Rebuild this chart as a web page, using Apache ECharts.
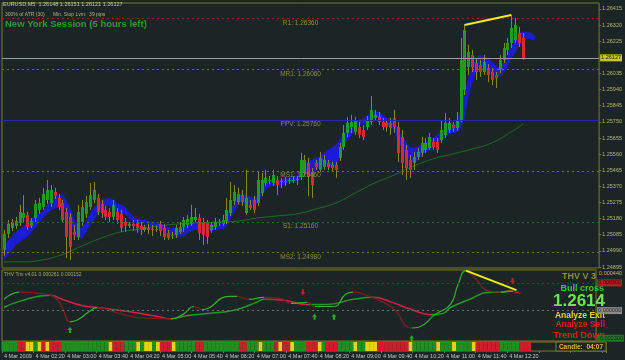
<!DOCTYPE html>
<html>
<head>
<meta charset="utf-8">
<script src="https://cdn.jsdelivr.net/npm/echarts@6/dist/echarts.min.js"></script>
<style>
  html, body { margin: 0; padding: 0; background: #1c2525; }
  #chart { width: 625px; height: 360px; }
</style>
</head>
<body>
<div id="chart"></div>
<script>
// M5 slots on the time axis (candles + chart shift space)
const slotCount = 153
const dateLabels = ['4 Mar 2009', '4 Mar 02:20', '4 Mar 03:00', '4 Mar 03:40', '4 Mar 04:20', '4 Mar 05:00',
  '4 Mar 05:40', '4 Mar 06:20', '4 Mar 07:00', '4 Mar 07:40', '4 Mar 08:20', '4 Mar 09:00', '4 Mar 09:40',
  '4 Mar 10:20', '4 Mar 11:00', '4 Mar 11:40', '4 Mar 12:20']
const priceTicks = [1.24895, 1.24990, 1.25085, 1.25180, 1.25275, 1.25370, 1.25465, 1.25560, 1.25655,
  1.25750, 1.25845, 1.25940, 1.26035, 1.26130, 1.26225, 1.26320, 1.26415]

// [open, close, low, high]
const candles = [
  [1.24996, 1.25090, 1.24960, 1.25113], [1.25090, 1.25149, 1.25066, 1.25172], [1.25125, 1.25160, 1.25107, 1.25178],
  [1.25137, 1.25166, 1.25119, 1.25190], [1.25155, 1.25219, 1.25137, 1.25261], [1.25184, 1.25213, 1.25160, 1.25319],
  [1.25202, 1.25131, 1.25113, 1.25219], [1.25137, 1.25166, 1.25125, 1.25184], [1.25184, 1.25266, 1.25160, 1.25290],
  [1.25231, 1.25272, 1.25208, 1.25302], [1.25249, 1.25325, 1.25231, 1.25361], [1.25290, 1.25349, 1.25266, 1.25408],
  [1.25272, 1.25349, 1.25249, 1.25378], [1.25337, 1.25314, 1.25296, 1.25361], [1.25302, 1.25249, 1.25231, 1.25325],
  [1.25272, 1.25172, 1.25155, 1.25290], [1.25219, 1.25072, 1.24948, 1.25243], [1.25190, 1.25013, 1.24937, 1.25213],
  [1.25102, 1.25084, 1.25054, 1.25143], [1.25072, 1.25219, 1.25054, 1.25261], [1.25160, 1.25249, 1.25137, 1.25290],
  [1.25208, 1.25278, 1.25184, 1.25314], [1.25249, 1.25319, 1.25231, 1.25390], [1.25290, 1.25349, 1.25272, 1.25396],
  [1.25302, 1.25219, 1.25202, 1.25325], [1.25266, 1.25213, 1.25184, 1.25290], [1.25231, 1.25190, 1.25172, 1.25255],
  [1.25219, 1.25190, 1.25160, 1.25243], [1.25190, 1.25261, 1.25172, 1.25290], [1.25219, 1.25172, 1.25149, 1.25243],
  [1.25208, 1.25125, 1.25102, 1.25231], [1.25160, 1.25137, 1.25102, 1.25184], [1.25137, 1.25149, 1.25125, 1.25160],
  [1.25149, 1.25137, 1.25107, 1.25172], [1.25155, 1.25125, 1.25096, 1.25172], [1.25137, 1.25113, 1.25084, 1.25160],
  [1.25113, 1.25131, 1.25102, 1.25143], [1.25125, 1.25113, 1.25090, 1.25149], [1.25113, 1.25119, 1.25078, 1.25143],
  [1.25119, 1.25113, 1.25102, 1.25137], [1.25149, 1.25107, 1.25078, 1.25166], [1.25125, 1.25072, 1.25054, 1.25149],
  [1.25096, 1.25066, 1.25054, 1.25113], [1.25084, 1.25078, 1.25060, 1.25102], [1.25084, 1.25125, 1.25066, 1.25143],
  [1.25102, 1.25131, 1.25090, 1.25160], [1.25131, 1.25172, 1.25102, 1.25190], [1.25143, 1.25178, 1.25125, 1.25202],
  [1.25149, 1.25190, 1.25137, 1.25261], [1.25172, 1.25190, 1.25160, 1.25243], [1.25184, 1.25096, 1.25054, 1.25208],
  [1.25160, 1.25084, 1.25025, 1.25184], [1.25155, 1.25072, 1.25031, 1.25172], [1.25113, 1.25143, 1.25096, 1.25160],
  [1.25131, 1.25160, 1.25113, 1.25184], [1.25155, 1.25160, 1.25137, 1.25178], [1.25149, 1.25172, 1.25137, 1.25202],
  [1.25166, 1.25231, 1.25149, 1.25302], [1.25213, 1.25290, 1.25196, 1.25396], [1.25284, 1.25337, 1.25261, 1.25378],
  [1.25278, 1.25325, 1.25261, 1.25361], [1.25319, 1.25278, 1.25255, 1.25349], [1.25213, 1.25302, 1.25202, 1.25467],
  [1.25261, 1.25243, 1.25231, 1.25290], [1.25290, 1.25231, 1.25213, 1.25314], [1.25272, 1.25408, 1.25255, 1.25455],
  [1.25331, 1.25408, 1.25314, 1.25449], [1.25390, 1.25420, 1.25373, 1.25467], [1.25402, 1.25408, 1.25384, 1.25431],
  [1.25390, 1.25437, 1.25373, 1.25467], [1.25408, 1.25378, 1.25319, 1.25431], [1.25396, 1.25402, 1.25361, 1.25420],
  [1.25402, 1.25396, 1.25373, 1.25425], [1.25402, 1.25408, 1.25384, 1.25420], [1.25402, 1.25408, 1.25390, 1.25431],
  [1.25408, 1.25414, 1.25378, 1.25431], [1.25425, 1.25526, 1.25408, 1.25567], [1.25449, 1.25526, 1.25431, 1.25555],
  [1.25508, 1.25425, 1.25314, 1.25537], [1.25455, 1.25378, 1.25302, 1.25478], [1.25508, 1.25484, 1.25467, 1.25526],
  [1.25467, 1.25537, 1.25455, 1.25573], [1.25484, 1.25526, 1.25467, 1.25555], [1.25508, 1.25484, 1.25467, 1.25526],
  [1.25496, 1.25478, 1.25455, 1.25514], [1.25496, 1.25467, 1.25420, 1.25514], [1.25537, 1.25602, 1.25520, 1.25626],
  [1.25602, 1.25685, 1.25585, 1.25732], [1.25685, 1.25744, 1.25661, 1.25779], [1.25720, 1.25749, 1.25685, 1.25791],
  [1.25691, 1.25761, 1.25673, 1.25779], [1.25720, 1.25673, 1.25655, 1.25749], [1.25702, 1.25661, 1.25643, 1.25732],
  [1.25720, 1.25761, 1.25702, 1.25785], [1.25749, 1.25820, 1.25732, 1.25903], [1.25773, 1.25791, 1.25755, 1.25820],
  [1.25779, 1.25749, 1.25732, 1.25808], [1.25749, 1.25720, 1.25702, 1.25773], [1.25744, 1.25720, 1.25691, 1.25761],
  [1.25744, 1.25714, 1.25673, 1.25773], [1.25773, 1.25720, 1.25685, 1.25820], [1.25720, 1.25567, 1.25514, 1.25749],
  [1.25661, 1.25508, 1.25437, 1.25702], [1.25585, 1.25478, 1.25408, 1.25614], [1.25526, 1.25467, 1.25420, 1.25555],
  [1.25508, 1.25543, 1.25467, 1.25573], [1.25543, 1.25573, 1.25526, 1.25596], [1.25567, 1.25626, 1.25543, 1.25661],
  [1.25585, 1.25626, 1.25567, 1.25655], [1.25596, 1.25661, 1.25585, 1.25685], [1.25632, 1.25602, 1.25585, 1.25655],
  [1.25632, 1.25585, 1.25567, 1.25655], [1.25643, 1.25702, 1.25626, 1.25761], [1.25673, 1.25744, 1.25655, 1.25802],
  [1.25702, 1.25744, 1.25685, 1.25773], [1.25732, 1.25714, 1.25691, 1.25749], [1.25714, 1.25761, 1.25696, 1.25808],
  [1.25761, 1.26115, 1.25749, 1.26244], [1.25938, 1.26291, 1.25908, 1.26321], [1.26073, 1.26162, 1.26026, 1.26203],
  [1.26144, 1.26073, 1.26044, 1.26174], [1.26097, 1.26044, 1.25997, 1.26126], [1.26085, 1.26044, 1.26015, 1.26115],
  [1.26044, 1.26103, 1.26026, 1.26144], [1.26067, 1.26026, 1.25985, 1.26091], [1.26044, 1.25997, 1.25967, 1.26067],
  [1.26026, 1.26009, 1.25950, 1.26044], [1.26056, 1.26115, 1.26038, 1.26144], [1.26115, 1.26185, 1.26097, 1.26215],
  [1.26174, 1.26215, 1.26144, 1.26244], [1.26215, 1.26303, 1.26185, 1.26380], [1.26232, 1.26321, 1.26215, 1.26362],
  [1.26274, 1.26215, 1.26191, 1.26309], [1.26244, 1.26127, 1.26115, 1.26274]
]

// blue channel: [slot, upper, lower]
const bandPoints = [
  [0, 1.25025, 1.24937], [3, 1.25102, 1.25025], [6, 1.25149, 1.25078], [8, 1.25202, 1.25125], [10, 1.25219, 1.25190],
  [12, 1.25290, 1.25231], [14, 1.25314, 1.25249], [15, 1.25319, 1.25261], [16, 1.25290, 1.25219], [17, 1.25231, 1.25160],
  [18, 1.25172, 1.25102], [19, 1.25137, 1.25066], [20, 1.25125, 1.25066], [21, 1.25160, 1.25102], [22, 1.25208, 1.25143],
  [23, 1.25243, 1.25172], [24, 1.25266, 1.25208], [25, 1.25290, 1.25249], [26, 1.25296, 1.25261], [27, 1.25302, 1.25255],
  [28, 1.25290, 1.25237], [29, 1.25272, 1.25219], [30, 1.25261, 1.25213], [31, 1.25249, 1.25208], [32, 1.25219, 1.25184],
  [33, 1.25196, 1.25166], [34, 1.25178, 1.25155], [35, 1.25172, 1.25149], [36, 1.25172, 1.25155], [37, 1.25166, 1.25143],
  [38, 1.25160, 1.25131], [39, 1.25155, 1.25125], [40, 1.25149, 1.25119], [41, 1.25143, 1.25113], [42, 1.25131, 1.25102],
  [43, 1.25125, 1.25084], [44, 1.25119, 1.25072], [45, 1.25119, 1.25072], [46, 1.25125, 1.25078], [47, 1.25137, 1.25096],
  [48, 1.25149, 1.25107], [49, 1.25160, 1.25119], [50, 1.25160, 1.25113], [51, 1.25155, 1.25113], [52, 1.25149, 1.25107],
  [53, 1.25149, 1.25107], [54, 1.25143, 1.25113], [55, 1.25143, 1.25119], [56, 1.25149, 1.25119], [57, 1.25184, 1.25137],
  [58, 1.25231, 1.25184], [59, 1.25266, 1.25219], [60, 1.25308, 1.25266], [61, 1.25325, 1.25278], [62, 1.25319, 1.25261],
  [63, 1.25308, 1.25261], [64, 1.25302, 1.25261], [65, 1.25314, 1.25272], [66, 1.25349, 1.25314], [67, 1.25378, 1.25349],
  [68, 1.25402, 1.25373], [69, 1.25408, 1.25378], [70, 1.25408, 1.25378], [71, 1.25408, 1.25373], [72, 1.25414, 1.25384],
  [73, 1.25425, 1.25396], [74, 1.25425, 1.25396], [75, 1.25431, 1.25402], [76, 1.25467, 1.25420], [77, 1.25496, 1.25437],
  [78, 1.25526, 1.25455], [79, 1.25526, 1.25437], [80, 1.25537, 1.25467], [81, 1.25549, 1.25484], [82, 1.25567, 1.25508],
  [83, 1.25585, 1.25496], [84, 1.25596, 1.25484], [85, 1.25614, 1.25496], [86, 1.25643, 1.25537], [87, 1.25679, 1.25608],
  [88, 1.25714, 1.25643], [89, 1.25732, 1.25673], [90, 1.25755, 1.25714], [91, 1.25761, 1.25732], [92, 1.25767, 1.25738],
  [93, 1.25785, 1.25749], [94, 1.25802, 1.25761], [95, 1.25808, 1.25773], [96, 1.25808, 1.25779], [97, 1.25791, 1.25755],
  [98, 1.25773, 1.25732], [99, 1.25761, 1.25720], [100, 1.25744, 1.25696], [101, 1.25702, 1.25643], [102, 1.25661, 1.25596],
  [103, 1.25632, 1.25555], [104, 1.25602, 1.25526], [105, 1.25596, 1.25514], [106, 1.25602, 1.25526], [107, 1.25614, 1.25549],
  [108, 1.25632, 1.25573], [109, 1.25643, 1.25585], [110, 1.25655, 1.25602], [111, 1.25673, 1.25626], [112, 1.25691, 1.25643],
  [113, 1.25702, 1.25661], [114, 1.25714, 1.25679], [115, 1.25726, 1.25685], [116, 1.25749, 1.25691], [117, 1.25820, 1.25714],
  [118, 1.25926, 1.25773], [119, 1.25997, 1.25908], [120, 1.26085, 1.25985], [121, 1.26126, 1.26056], [122, 1.26144, 1.26085],
  [123, 1.26132, 1.26073], [124, 1.26126, 1.26056], [125, 1.26103, 1.26044], [126, 1.26079, 1.26026], [127, 1.26067, 1.26015],
  [128, 1.26103, 1.26038], [129, 1.26144, 1.26079], [130, 1.26191, 1.26126], [131, 1.26232, 1.26162], [132, 1.26268, 1.26203],
  [133, 1.26280, 1.26221], [134, 1.26280, 1.26244], [135, 1.26274, 1.26238], [136, 1.26256, 1.26232]
]

// slow green moving average: [slot, price]
const maPoints = [
  [0, 1.24925], [5, 1.24925], [10, 1.24937], [13, 1.24954], [16, 1.24978], [20, 1.25019], [25, 1.25066],
  [30, 1.25102], [35, 1.25119], [40, 1.25137], [45, 1.25149], [50, 1.25155], [55, 1.25160], [60, 1.25166],
  [65, 1.25184], [70, 1.25196], [75, 1.25208], [80, 1.25237], [85, 1.25272], [90, 1.25331], [95, 1.25390],
  [100, 1.25437], [105, 1.25490], [110, 1.25532], [115, 1.25561], [120, 1.25590], [125, 1.25626], [130, 1.25691],
  [133, 1.25738]
]

const pivotNames = ['R1', 'MR1', 'PPV', 'MS1', 'S1', 'MS2']
const pivotValues = [1.26360, 1.26060, 1.25760, 1.25460, 1.25160, 1.24980]
const pivotColors = ['#8e2424', '#6f6f2c', '#2626b0', '#6f6f2c', '#1f6e24', '#6f6f2c']
const lastPrice = 1.26127
const priceTrend = [[118, 1.26321], [130, 1.26380]]

// THV Trix lines: [slot, value]
const trixFast = [
  [0, 0.000122], [4, 0.000200], [9, 0.000189], [13, 0.000144], [15, 0.000033], [17, -0.000122], [19, -0.000100],
  [22, -0.000011], [24, 0.000033], [29, -0.000022], [35, -0.000078], [43, -0.000089], [46, -0.000044], [49, 0.000044],
  [51, 0.000011], [58, 0.000155], [60, 0.000155], [63, 0.000122], [67, 0.000144], [71, 0.000133], [74, 0.000078],
  [78, 0.000089], [80, 0.000044], [85, 0.000044], [88, 0.000178], [90, 0.000200], [94, 0.000155], [100, 0.000033],
  [105, -0.000189], [107, -0.000178], [111, -0.000044], [115, 0.000067], [117, 0.000289], [119, 0.000433],
  [121, 0.000366], [125, 0.000211], [128, 0.000200], [131, 0.000211], [133, 0.000195]
]
const trixSlow = [
  [0, 0.000033], [4, 0.000100], [12, 0.000167], [15, 0.000122], [20, 0.000056], [24, 0.000033], [32, -0.000011],
  [40, -0.000067], [43, -0.000089], [47, -0.000056], [55, -0.000022], [60, 0.000011], [65, 0.000089], [67, 0.000122],
  [72, 0.000111], [78, 0.000067], [83, 0.000067], [90, 0.000122], [95, 0.000144], [100, 0.000089], [105, 0.000011],
  [110, -0.000044], [113, -0.000033], [115, 0.000033], [120, 0.000122], [125, 0.000200], [128, 0.000200],
  [130, 0.000211], [133, 0.000189]
]
const trixLevels = [0.0003, 0, -0.0003]
const trixTrend = [[119, 0.000433], [132, 0.000222]]
const upArrows = [[17, -0.000211], [80, -0.000067], [85, -0.000067], [105, -0.000300]]
const downArrows = [[77, 0.000200], [131, 0.000322]]

// signal strip, one code per candle: G up, R down, Y neutral
const stripCodes = ('GGGGRRYYGY' + 'RYRRRGGGGG' + 'GGGGGGGYRR' + 'RGGGYGYYGY' + 'RRRYGGGGGR' +
  'RGGGGGGGGG' + 'RRGGGYGGGR' + 'YRRYGGGRRR' + 'YGRRRGGGGY' + 'GGYYYRRRRR' +
  'RRRYGGGGGG' + 'YGGGYGGGGY' + 'RRRRRRGGGG' + 'GRRR').split('')

const FONT = 'Liberation Sans'
const OLIVE = '#7b7b2b'
const stripColors = { G: '#1f8f1f', R: '#c8202c', Y: '#e6d21a' }
const slots = Array.from({ length: slotCount }, (_, i) => String(i))

function slopePieces (points, upColor, downColor) {
  const pieces = []
  for (let k = 0; k < points.length - 1; k++) {
    pieces.push({
      gte: points[k][0],
      lt: points[k + 1][0],
      color: points[k + 1][1] >= points[k][1] ? upColor : downColor
    })
  }
  pieces.push({ gte: points[points.length - 1][0], color: pieces[pieces.length - 1].color })
  return pieces
}

const chart = echarts.init(document.getElementById('chart'), null, { renderer: 'canvas' })

const pivotLines = pivotNames.map((name, k) => ({
  yAxis: pivotValues[k],
  lineStyle: { color: pivotColors[k], type: name === 'PPV' ? 'solid' : [2, 3], width: 1 },
  label: {
    show: true,
    position: 'insideMiddleBottom',
    distance: 1,
    formatter: name + ': ' + pivotValues[k].toFixed(5),
    color: '#8c8c3c',
    fontSize: 6.5,
    fontFamily: FONT
  }
}))

function levelBox (value, bg, fg, lineColor) {
  return {
    yAxis: value,
    lineStyle: { color: lineColor, type: [2, 3], width: 1 },
    label: {
      show: true,
      position: 'end',
      distance: 1,
      formatter: value.toFixed(6),
      backgroundColor: bg,
      color: fg,
      fontSize: 5.5,
      fontFamily: FONT,
      padding: [1, 1, 0, 1]
    }
  }
}

const option = {
  backgroundColor: '#1c2525',
  animation: false,
  textStyle: { fontFamily: FONT },
  grid: [
    { left: 2, right: 19, top: 3, height: 265, show: true, borderColor: OLIVE, borderWidth: 1, backgroundColor: 'transparent' },
    { left: 2, right: 19, top: 270, height: 71, show: true, borderColor: OLIVE, borderWidth: 1, backgroundColor: 'transparent' },
    { left: 2, right: 19, top: 342, height: 9, show: true, borderColor: OLIVE, borderWidth: 1, backgroundColor: 'transparent' }
  ],
  xAxis: [
    { type: 'category', gridIndex: 0, data: slots, boundaryGap: true, show: false },
    { type: 'category', gridIndex: 1, data: slots, boundaryGap: true, show: false },
    {
      type: 'category',
      gridIndex: 2,
      data: slots,
      boundaryGap: true,
      axisLine: { show: false },
      axisTick: { show: true, interval: 7, length: 2, lineStyle: { color: OLIVE } },
      axisLabel: {
        interval: 7,
        margin: 2,
        align: 'left',
        color: '#c4c4c4',
        fontSize: 5.5,
        fontFamily: FONT,
        formatter: (v) => dateLabels[Number(v) / 8] || ''
      }
    }
  ],
  yAxis: [
    {
      type: 'value',
      gridIndex: 0,
      position: 'right',
      min: 1.248891,
      max: 1.264502,
      axisLine: { show: false },
      splitLine: { show: false },
      axisTick: { show: true, length: 2, lineStyle: { color: OLIVE }, customValues: priceTicks },
      axisLabel: {
        customValues: priceTicks,
        margin: 3,
        color: '#b8b86a',
        fontSize: 5.5,
        fontFamily: FONT,
        formatter: (v) => v.toFixed(5)
      }
    },
    {
      type: 'value',
      gridIndex: 1,
      position: 'right',
      min: -0.00033,
      max: 0.00044,
      axisLine: { show: false },
      splitLine: { show: false },
      axisTick: { show: false },
      axisLabel: {
        customValues: [0.00044],
        margin: 3,
        color: '#b8b86a',
        fontSize: 5.5,
        fontFamily: FONT,
        verticalAlign: 'top',
        formatter: (v) => v.toFixed(6)
      }
    },
    { type: 'value', gridIndex: 2, min: 0, max: 1, show: false }
  ],
  visualMap: [
    { type: 'piecewise', show: false, seriesIndex: 3, dimension: 0, pieces: slopePieces(trixSlow, '#23962a', '#d41e48') },
    { type: 'piecewise', show: false, seriesIndex: 4, dimension: 0, pieces: slopePieces(trixFast, '#3aaa34', '#7e1c20') }
  ],
  series: [
    {
      type: 'custom',
      name: 'channel',
      xAxisIndex: 0,
      yAxisIndex: 0,
      data: bandPoints,
      encode: { x: 0, y: [1, 2] },
      renderItem (params, api) {
        const k = params.dataIndex
        if (k >= bandPoints.length - 1) return null
        const a = bandPoints[k]
        const b = bandPoints[k + 1]
        const pts = [api.coord([a[0], a[1]]), api.coord([b[0], b[1]]), api.coord([b[0], b[2]]), api.coord([a[0], a[2]])]
        return {
          type: 'polygon',
          shape: { points: pts },
          style: { fill: '#1c1cd2', stroke: '#1c1cd2', lineWidth: 0.6 }
        }
      }
    },
    {
      type: 'custom',
      name: 'candles',
      xAxisIndex: 0,
      yAxisIndex: 0,
      data: candles.map((c, i) => [i, c[0], c[1], c[2], c[3]]),
      encode: { x: 0, y: [1, 2, 3, 4] },
      z: 3,
      renderItem (params, api) {
        const i = api.value(0)
        const o = api.coord([i, api.value(1)])
        const c = api.coord([i, api.value(2)])
        const l = api.coord([i, api.value(3)])
        const h = api.coord([i, api.value(4)])
        const up = api.value(2) >= api.value(1)
        const x = Math.round(o[0])
        const top = Math.min(o[1], c[1])
        const bh = Math.max(Math.abs(o[1] - c[1]), 1)
        return {
          type: 'group',
          children: [
            { type: 'line', shape: { x1: x + 0.5, y1: h[1], x2: x + 0.5, y2: l[1] }, style: { stroke: '#86862e', lineWidth: 1 } },
            { type: 'rect', shape: { x: x - 1, y: top, width: 3, height: bh }, style: { fill: up ? '#1f9a22' : '#d22a36' } }
          ]
        }
      }
    },
    {
      type: 'line',
      name: 'MA',
      xAxisIndex: 0,
      yAxisIndex: 0,
      data: maPoints,
      smooth: true,
      symbol: 'none',
      z: 2,
      lineStyle: { color: '#1f6a28', width: 1 },
      markLine: {
        symbol: 'none',
        silent: true,
        animation: false,
        precision: 6,
        data: [
          ...pivotLines,
          {
            yAxis: lastPrice,
            lineStyle: { color: '#9c9c9c', type: 'solid', width: 1 },
            label: {
              show: true,
              position: 'end',
              distance: 1,
              formatter: lastPrice.toFixed(5),
              backgroundColor: '#c6c62a',
              color: '#1c1c00',
              fontSize: 5.5,
              fontFamily: FONT,
              padding: [1, 1, 0, 1]
            }
          },
          [
            { coord: priceTrend[0], lineStyle: { color: '#f2ee1a', width: 2, type: 'solid' }, label: { show: false } },
            { coord: priceTrend[1] }
          ]
        ]
      }
    },
    {
      type: 'line',
      name: 'Trix slow',
      xAxisIndex: 1,
      yAxisIndex: 1,
      data: trixSlow,
      smooth: true,
      symbol: 'none',
      lineStyle: { width: 1.5 },
      markLine: {
        symbol: 'none',
        silent: true,
        animation: false,
        precision: 7,
        data: [
          levelBox(trixLevels[0], '#b41e22', '#3a0808', '#7a2424'),
          levelBox(trixLevels[1], '#8a8a8a', '#2a2a2a', '#6c6c6c'),
          levelBox(trixLevels[2], '#1e7a22', '#0c2a0c', 'rgba(0,0,0,0)')
        ]
      }
    },
    {
      type: 'line',
      name: 'Trix fast',
      xAxisIndex: 1,
      yAxisIndex: 1,
      data: trixFast,
      smooth: true,
      symbol: 'none',
      lineStyle: { width: 1.2 },
      markLine: {
        symbol: 'none',
        silent: true,
        animation: false,
        precision: 7,
        data: [[
          { coord: trixTrend[0], lineStyle: { color: '#f2ee1a', width: 2, type: 'solid' }, label: { show: false } },
          { coord: trixTrend[1] }
        ]]
      }
    },
    {
      type: 'scatter',
      name: 'buy',
      xAxisIndex: 1,
      yAxisIndex: 1,
      data: upArrows,
      symbol: 'path://M5,0 L10,5 L7,5 L7,10 L3,10 L3,5 L0,5 Z',
      symbolSize: [5, 6],
      itemStyle: { color: '#22cc22' }
    },
    {
      type: 'scatter',
      name: 'sell',
      xAxisIndex: 1,
      yAxisIndex: 1,
      data: downArrows,
      symbol: 'path://M5,0 L10,5 L7,5 L7,10 L3,10 L3,5 L0,5 Z',
      symbolRotate: 180,
      symbolSize: [5, 6],
      itemStyle: { color: '#e02222' }
    },
    {
      type: 'bar',
      name: 'strip',
      xAxisIndex: 2,
      yAxisIndex: 2,
      barCategoryGap: '0%',
      data: stripCodes.map((code) => ({ value: 1, itemStyle: { color: stripColors[code] } }))
    }
  ],
  graphic: [
    { type: 'text', x: 3, y: 1, style: { text: 'EURUSD,M5  1.26148 1.26151 1.26121 1.26127', fill: '#c8c89c', font: '5.5px ' + FONT } },
    { type: 'text', x: 5, y: 12, style: { text: '300% of ATR (30)      Min. Stop Lvm:  39 pips', fill: '#b0b076', font: '5px ' + FONT } },
    { type: 'text', x: 5, y: 19, style: { text: 'New York Session (5 hours left)', fill: '#2a9a2a', font: 'bold 9.5px ' + FONT } },
    { type: 'text', x: 4, y: 272, style: { text: 'THV Trix v4.01 0.000261 0.000152', fill: '#a6a65e', font: '5px ' + FONT } },
    { type: 'text', x: 579, y: 277, style: { text: 'THV V 3', fill: '#8c8c3c', font: 'bold 9px ' + FONT, align: 'center', verticalAlign: 'middle' } },
    { type: 'text', x: 604, y: 289, style: { text: 'Bull cross', fill: '#3cc23c', font: 'bold 9px ' + FONT, align: 'right', verticalAlign: 'middle' } },
    { type: 'text', x: 605, y: 301, style: { text: '1.2614', fill: '#6ae650', font: 'bold 17px ' + FONT, align: 'right', verticalAlign: 'middle' } },
    { type: 'text', x: 605, y: 316, style: { text: 'Analyze Exit', fill: '#e8d41c', font: 'bold 8.5px ' + FONT, align: 'right', verticalAlign: 'middle' } },
    { type: 'text', x: 605, y: 325, style: { text: 'Analyze Sell', fill: '#e01c1c', font: 'bold 8.5px ' + FONT, align: 'right', verticalAlign: 'middle' } },
    { type: 'text', x: 605, y: 336, style: { text: 'Trend Down', fill: '#e01c1c', font: 'bold 9px ' + FONT, align: 'right', verticalAlign: 'middle' } },
    { type: 'rect', shape: { x: 556, y: 342, width: 50, height: 9 }, style: { fill: '#1c2525', stroke: OLIVE, lineWidth: 1 } },
    { type: 'text', x: 603, y: 347, style: { text: 'Candle:  04:07', fill: '#e0b43c', font: 'bold 6.5px ' + FONT, align: 'right', verticalAlign: 'middle' } }
  ]
}

chart.setOption(option)
</script>
</body>
</html>
